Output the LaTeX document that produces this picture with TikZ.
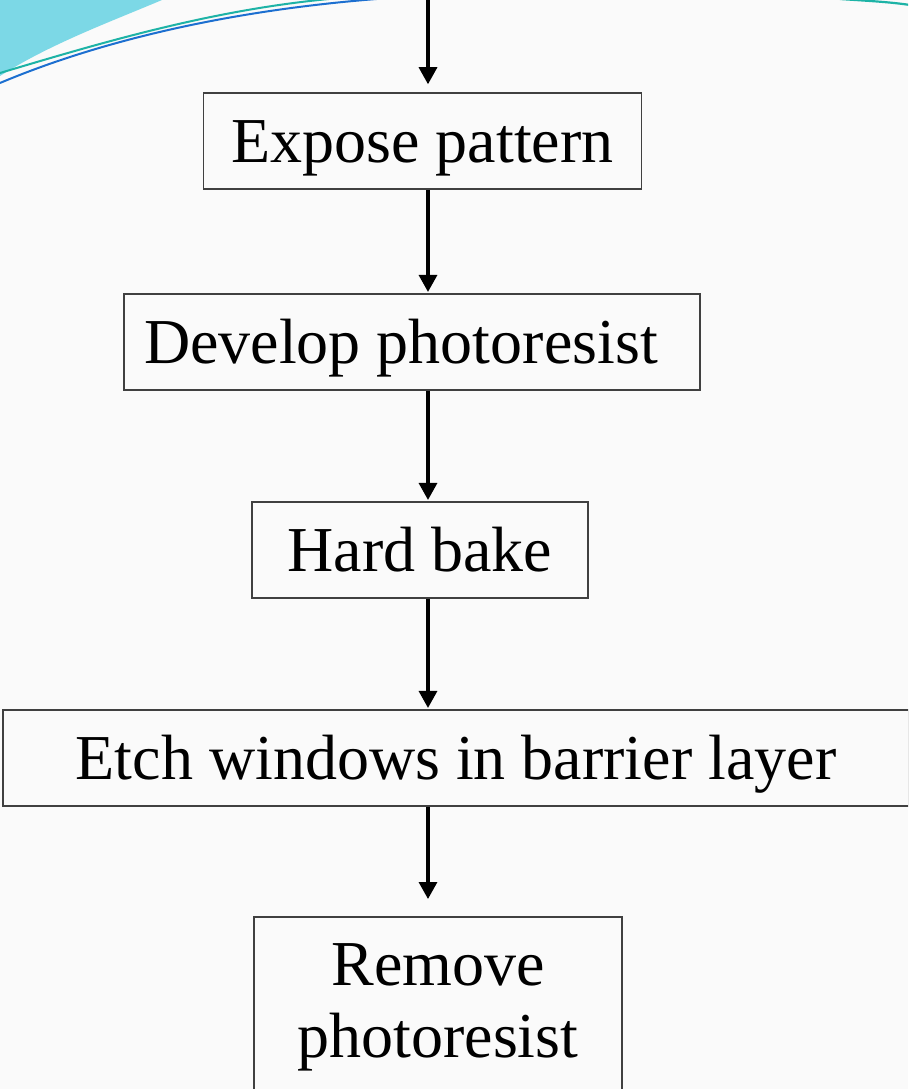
\documentclass[tikz,border=0pt]{standalone}
\usepackage{fontspec}
\setmainfont{Liberation Serif}
\usetikzlibrary{arrows.meta}
\definecolor{bgc}{HTML}{FAFAFA}
\definecolor{swoosh}{HTML}{7CD8E6}
\definecolor{tealline}{HTML}{1DB3A6}
\definecolor{blueline}{HTML}{1C6FD0}
\definecolor{boxline}{HTML}{404040}
\begin{document}
\begin{tikzpicture}[x=1pt,y=-1pt,
  stepbox/.style={draw=boxline, line width=1.5pt, inner sep=0pt, minimum height=96pt,
    font=\fontsize{64}{72}\selectfont, text height=42.4pt, text depth=0pt},
  flowarrow/.style={line width=3.2pt, -{Triangle[width=18pt,length=17pt]}}]
\useasboundingbox (0,0) rectangle (908,1089);
\clip (0,0) rectangle (908,1089);
\fill[bgc] (0,0) rectangle (908,1089);
% decoration
\fill[swoosh] (0,0) -- (162,0) .. controls (110,22) and (50,44) .. (0,76) -- cycle;
\draw[tealline, line width=2pt] (0,73) .. controls (110,40) and (220,8) .. (340,-2);
\draw[blueline, line width=2pt] (0,83) .. controls (90,45) and (220,10) .. (390,-2);
\draw[tealline, line width=2.2pt] (840,-1) .. controls (870,1) and (890,2) .. (910,5);
% boxes
\node[stepbox, minimum width=438pt] (expose) at (422.6,141) {Expose pattern};
\node[stepbox, minimum width=576pt] (develop) at (412,342) {Develop photoresist\kern22pt};
\node[stepbox, minimum width=336pt] (bake) at (420,550) {Hard bake};
\node[stepbox, minimum width=906pt] (etch) at (456,758) {Etch windows in barrier layer};
\node[draw=boxline, line width=1.5pt, inner sep=0pt, minimum width=368pt, anchor=north,
  font=\fontsize{64}{72}\selectfont, align=center, text height=141pt, text depth=43pt]
  (remove) at (438,916) {Remove\\photoresist};
% arrows
\coordinate (start) at (428,0);
\draw[flowarrow, shorten >=8pt] (start) -- (expose.north -| start);
\draw[flowarrow, shorten >=1.3pt] (expose.south -| start) -- (develop.north -| start);
\draw[flowarrow, shorten >=1.3pt] (develop.south -| start) -- (bake.north -| start);
\draw[flowarrow, shorten >=1.3pt] (bake.south -| start) -- (etch.north -| start);
\draw[flowarrow, shorten >=17pt] (etch.south -| start) -- (remove.north -| start);
\end{tikzpicture}
\end{document}
